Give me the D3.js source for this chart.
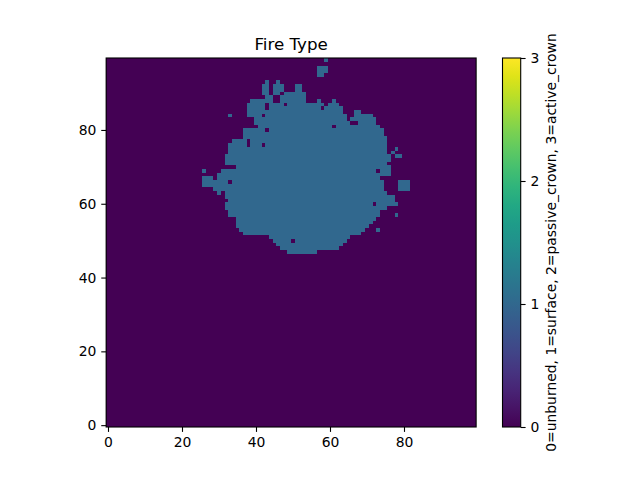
<!DOCTYPE html>
<html><head><meta charset="utf-8">
<script src="https://cdn.jsdelivr.net/npm/d3@7"></script>
<style>body{margin:0;background:#fff;} text{font-family:"DejaVu Sans",sans-serif;}</style>
</head><body><svg id="c" width="640" height="480"></svg>
<script>
const nCols = 100;
const nRows = 100;
const xTicks = [0, 20, 40, 60, 80];
const yTicks = [0, 20, 40, 60, 80];
const cbTicks = [0, 1, 2, 3];
const titleText = "Fire Type";
const cbLabel = "0=unburned, 1=surface, 2=passive_crown, 3=active_crown";
// cells with value 1 (surface fire), as runs: [row, firstCol, lastCol]
const surfaceRuns = [
 [99,59,59],
 [97,57,59],[96,57,59],[95,57,58],
 [93,43,43],[93,46,46],
 [92,42,43],[92,45,47],[92,51,52],
 [91,42,43],[91,45,47],[91,51,52],
 [90,42,43],[90,45,46],[90,48,53],
 [89,43,44],[89,47,53],
 [88,39,44],[88,47,53],[88,57,57],[88,61,61],
 [87,38,42],[87,44,47],[87,49,58],[87,60,62],
 [86,38,42],[86,44,57],[86,59,63],
 [85,38,63],[85,67,68],
 [84,33,33],[84,38,41],[84,43,64],[84,67,71],
 [83,40,64],[83,66,72],
 [82,40,65],[82,68,72],
 [81,41,60],[81,62,73],
 [80,37,42],[80,44,74],
 [79,37,74],
 [78,37,75],
 [77,34,37],[77,39,75],
 [76,33,37],[76,39,41],[76,43,75],
 [75,33,75],[75,78,78],
 [74,33,75],[74,77,77],
 [73,32,76],[73,78,79],
 [72,32,76],
 [71,32,75],
 [70,35,76],
 [69,26,26],[69,31,72],[69,74,76],
 [68,30,76],
 [67,26,28],[67,30,73],
 [66,26,32],[66,34,74],[66,79,81],
 [65,26,74],[65,79,81],
 [64,29,74],[64,79,81],
 [63,30,30],[63,32,75],
 [62,32,77],
 [61,33,77],
 [60,32,71],[60,73,78],
 [59,32,75],
 [58,33,73],
 [57,33,73],[57,78,78],
 [56,35,72],
 [55,35,71],
 [54,35,70],
 [53,36,69],[53,73,73],
 [52,37,68],
 [51,44,65],
 [50,45,49],[50,51,64],
 [49,46,63],
 [48,47,62],
 [47,49,56]
];

// build grid
const grid = [];
for (let r = 0; r < nRows; r++) for (let c = 0; c < nCols; c++) grid.push({r, c, v: 0});
surfaceRuns.forEach(([r, a, b]) => { for (let c = a; c <= b; c++) grid[r * nCols + c].v = 1; });

const svg = d3.select("#c");
const L = 106.15, R = 476.15, T = 58, B = 427;
const x = d3.scaleLinear().domain([-0.5, nCols - 0.5]).range([L, R]);
const y = d3.scaleLinear().domain([-0.5, nRows - 0.5]).range([B, T]);
const color = d3.scaleSequential(d3.interpolateViridis).domain([0, 3]);

svg.append("g").selectAll("rect").data(grid).join("rect")
  .attr("x", d => x(d.c - 0.5)).attr("y", d => y(d.r + 0.5))
  .attr("width", x(1) - x(0) + 0.3).attr("height", y(0) - y(1) + 0.3)
  .attr("fill", d => color(d.v)).attr("shape-rendering", "crispEdges");

const fs = 13.9;
const xa = svg.append("g").attr("transform", `translate(0,${B})`)
  .call(d3.axisBottom(x).tickValues(xTicks).tickSize(4.9).tickPadding(4.9));
const ya = svg.append("g").attr("transform", `translate(${L},0)`)
  .call(d3.axisLeft(y).tickValues(yTicks).tickSize(4.9).tickPadding(4.9));
[xa, ya].forEach(g => {
  g.select(".domain").remove();
  g.selectAll("text").attr("font-size", fs).attr("font-family", "DejaVu Sans").attr("fill", "#000");
  g.selectAll("line").attr("stroke", "#000").attr("stroke-width", 1.1);
});
svg.append("rect").attr("x", L).attr("y", T).attr("width", R - L).attr("height", B - T)
  .attr("fill", "none").attr("stroke", "#000").attr("stroke-width", 1.1);

svg.append("text").attr("x", (L + R) / 2).attr("y", 50).attr("text-anchor", "middle")
  .attr("font-size", 16.7).text(titleText);

// colorbar
const cbL = 502.5, cbW = 18.2;
const cy = d3.scaleLinear().domain([0, 3]).range([B, T]);
const defs = svg.append("defs");
const grad = defs.append("linearGradient").attr("id", "vir").attr("x1", 0).attr("y1", 1).attr("x2", 0).attr("y2", 0);
d3.range(0, 1.0001, 0.05).forEach(t => grad.append("stop").attr("offset", t).attr("stop-color", d3.interpolateViridis(t)));
svg.append("rect").attr("x", cbL).attr("y", T).attr("width", cbW).attr("height", B - T).attr("fill", "url(#vir)");
const ca = svg.append("g").attr("transform", `translate(${cbL + cbW},0)`)
  .call(d3.axisRight(cy).tickValues(cbTicks).tickFormat(d3.format("d")).tickSize(4.9).tickPadding(4.9));
ca.select(".domain").remove();
ca.selectAll("text").attr("font-size", fs).attr("font-family", "DejaVu Sans").attr("fill", "#000");
ca.selectAll("line").attr("stroke", "#000").attr("stroke-width", 1.1);
svg.append("rect").attr("x", cbL).attr("y", T).attr("width", cbW).attr("height", B - T)
  .attr("fill", "none").attr("stroke", "#000").attr("stroke-width", 1.1);
svg.append("text").attr("transform", `translate(556,${(T + B) / 2}) rotate(-90)`)
  .attr("text-anchor", "middle").attr("font-size", fs).text(cbLabel);
</script></body></html>
